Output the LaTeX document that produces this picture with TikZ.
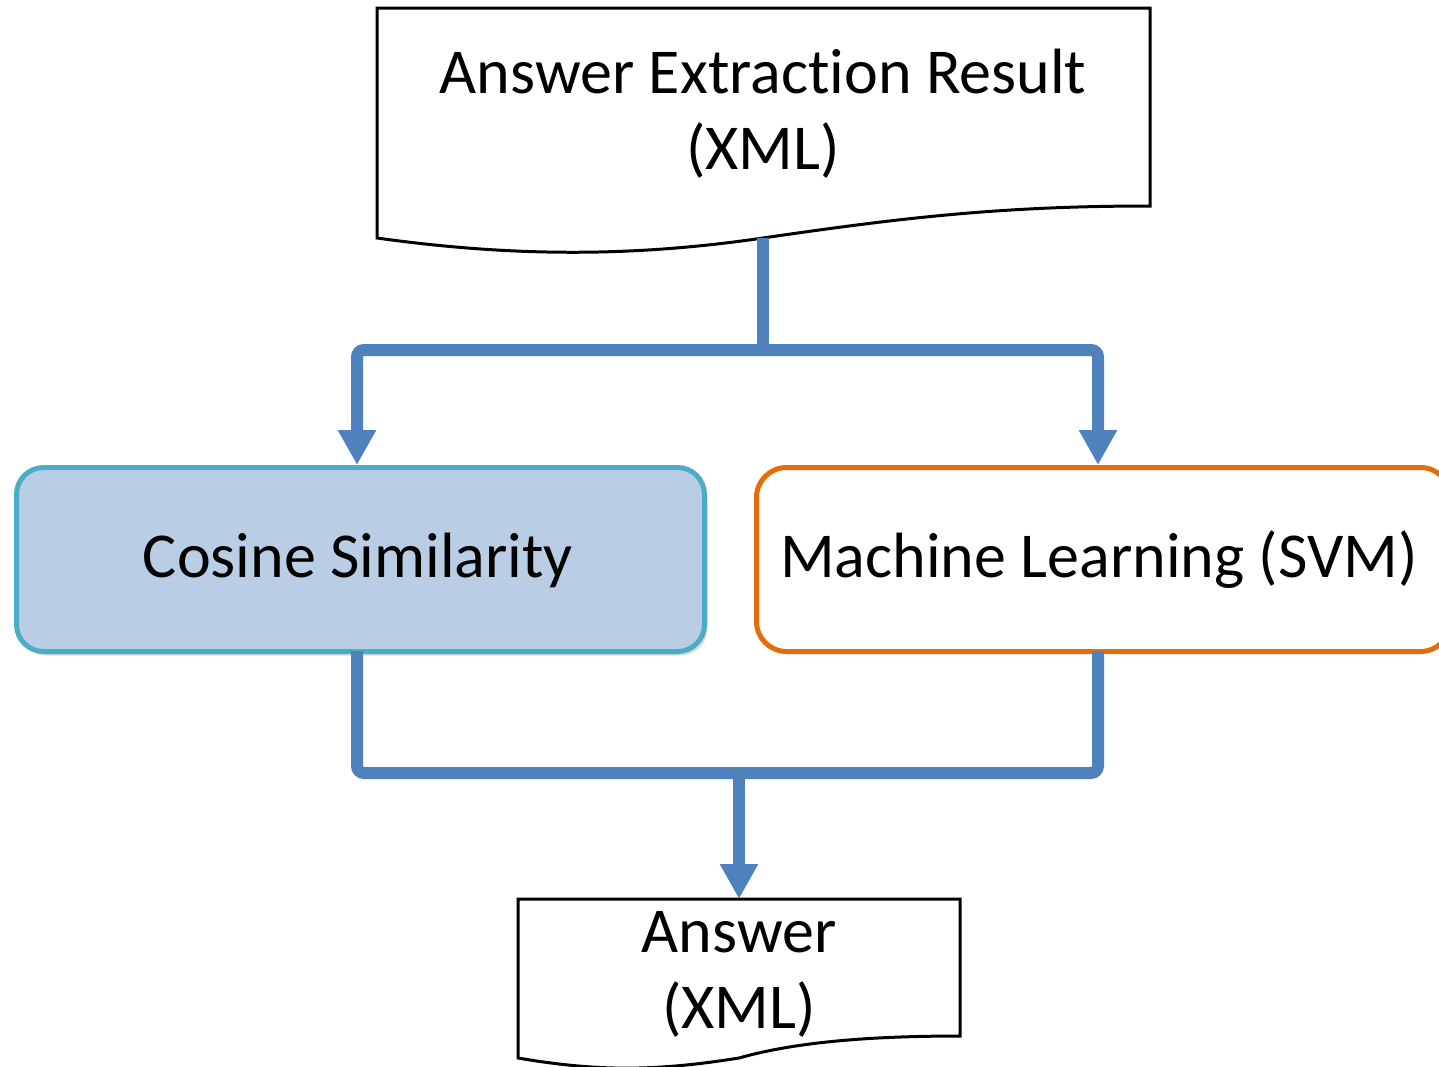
\documentclass[tikz,border=0pt]{standalone}
\usepackage{fontspec}
\setmainfont{Carlito}[Ligatures=NoCommon]
\usetikzlibrary{arrows.meta,shadows}
\definecolor{flow}{RGB}{79,129,189}
\definecolor{cosfill}{RGB}{185,205,229}
\definecolor{cosline}{RGB}{75,172,198}
\definecolor{mlline}{RGB}{228,108,10}
\tikzset{
  docline/.style={draw=black,line width=3pt,line join=miter},
  flowline/.style={draw=flow,line width=12pt,rounded corners=7pt},
  flowarrow/.style={flowline,-{Triangle[width=36pt,length=35pt]}},
  txt/.style={font=\fontsize{64}{76}\selectfont,align=center,inner sep=0pt},
  boxtxt/.style={font=\fontsize{64}{76}\selectfont,inner sep=0pt},
}
\begin{document}
\begin{tikzpicture}[x=1pt,y=-1pt]
\useasboundingbox (0,0) rectangle (1439,1066);
% top document
\draw[docline] (377,8) -- (1150,8) -- (1150,206)
  .. controls (1000,206) and (900,218) .. (763,238)
  .. controls (640,256) and (520,258) .. (377,238) -- cycle;
\node[txt] (res) at (763,114) {Answer Extraction Result\\(XML)};
\coordinate (resb) at (763,238);
% bottom document
\draw[docline] (518,899) -- (960,899) -- (960,1036)
  .. controls (857,1036) and (788,1044) .. (739,1058)
  .. controls (657,1071) and (600,1072) .. (518,1058) -- cycle;
\node[txt] (ans) at (739,974) {Answer\\(XML)};
\coordinate (anst) at (739,899);
% boxes
\node[draw=cosline,fill=cosfill,line width=5pt,rounded corners=27pt,
  minimum width=688pt,minimum height=184pt,anchor=north west,
  drop shadow={shadow xshift=3pt,shadow yshift=-4pt,opacity=0.3}] (cos) at (14,465) {};
\node[boxtxt] (costxt) at (358,560) {Cosine Similarity};
\node[draw=mlline,fill=white,line width=5pt,rounded corners=30pt,
  minimum width=694pt,minimum height=184pt,anchor=north west] (ml) at (754,465) {};
\node[boxtxt] (mltxt) at (1099,560) {Machine Learning (SVM)};
% connectors
\coordinate (split) at (763,350);
\coordinate (join) at (739,773);
\draw[flowline] (resb) -- (split);
\draw[flowarrow] (split) -| (357,465);
\draw[flowarrow] (split) -| (1098,465);
\draw[flowline] (357,651) |- (join);
\draw[flowline] (1098,651) |- (join);
\draw[flowarrow] (join) -- (anst);
\end{tikzpicture}
\end{document}
